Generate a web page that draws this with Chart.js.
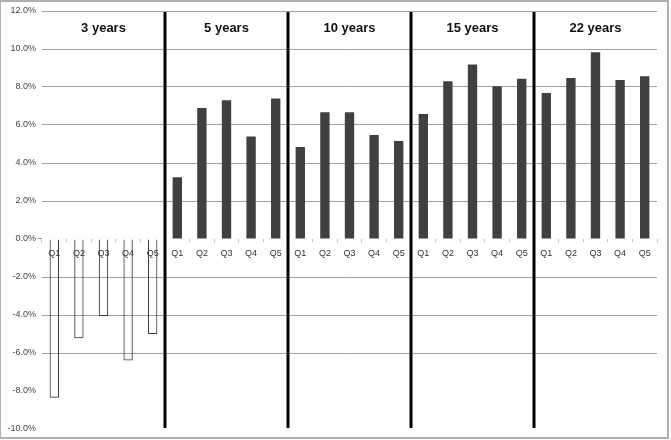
<!DOCTYPE html>
<html lang="en">

<head>
  <meta charset="UTF-8">
  <title>Returns by quintile and horizon</title>
  <script src="https://cdn.jsdelivr.net/npm/chart.js"></script>
  <style>
    body { margin: 0; background: #fff; }
    #wrap { position: relative; width: 671px; height: 440px; }
  </style>
</head>

<body>
  <div id="wrap"><canvas id="retChart" width="671" height="440"></canvas></div>

  <script>
    // horizons and quintiles
    const groups = ['3 years', '5 years', '10 years', '15 years', '22 years'];
    const quintiles = ['Q1', 'Q2', 'Q3', 'Q4', 'Q5'];

    // average return (%) per quintile, one array per horizon
    const y3 = [-8.35, -5.23, -4.05, -6.4, -5.0];
    const y5 = [3.25, 6.89, 7.3, 5.4, 7.4];
    const y10 = [4.84, 6.67, 6.67, 5.47, 5.16];
    const y15 = [6.58, 8.3, 9.19, 8.04, 8.44];
    const y22 = [7.68, 8.47, 9.83, 8.37, 8.56];

    const yTicks = [-10, -8, -6, -4, -2, 0, 2, 4, 6, 8, 10, 12];

    const labels = groups.flatMap(() => quintiles);
    const values = [].concat(y3, y5, y10, y15, y22);

    Chart.defaults.font.family = 'Arial, "Liberation Sans", sans-serif';

    // thick separators between horizons + horizon titles + outer frame
    const groupPlugin = {
      id: 'groups',
      afterDatasetsDraw(chart) {
        const ctx = chart.ctx;
        const x = chart.scales.x;
        const y = chart.scales.y;
        const n = quintiles.length;
        ctx.save();
        ctx.strokeStyle = '#000';
        ctx.lineWidth = 3;
        for (let g = 1; g < groups.length; g++) {
          const i = g * n;
          const px = (x.getPixelForValue(i - 1) + x.getPixelForValue(i)) / 2;
          ctx.beginPath();
          ctx.moveTo(px, y.top + 1);
          ctx.lineTo(px, y.bottom - 1);
          ctx.stroke();
        }
        ctx.fillStyle = '#111';
        ctx.font = 'bold 13px Arial, "Liberation Sans", sans-serif';
        ctx.textAlign = 'center';
        ctx.textBaseline = 'middle';
        groups.forEach((g, k) => {
          const cx = (x.getPixelForValue(k * n) + x.getPixelForValue(k * n + n - 1)) / 2;
          ctx.fillText(g, cx, 28);
        });
        ctx.strokeStyle = '#b0b0b0';
        ctx.lineWidth = 2;
        ctx.strokeRect(0, 1, 668, 437);
        ctx.restore();
      }
    };

    const ctx = document.getElementById('retChart').getContext('2d');
    new Chart(ctx, {
      type: 'bar',
      data: {
        labels: labels,
        datasets: [{
          data: values,
          backgroundColor: c => c.raw < 0 ? 'rgba(255,255,255,0)' : '#404040',
          borderColor: '#3a3a3a',
          borderWidth: c => c.raw < 0 ? 1 : 0,
          barPercentage: 0.38,
          categoryPercentage: 1
        }]
      },
      options: {
        responsive: false,
        animation: false,
        layout: { padding: { top: 11, right: 14, bottom: 11, left: 0 } },
        plugins: {
          legend: { display: false },
          tooltip: { enabled: false }
        },
        scales: {
          x: {
            position: { y: 0 },
            grid: {
              offset: true,
              drawOnChartArea: false,
              drawTicks: true,
              tickLength: 3,
              tickColor: '#c0c0c0'
            },
            border: { display: false },
            ticks: {
              color: '#333',
              font: { size: 9 },
              padding: 6,
              maxRotation: 0,
              autoSkip: false
            }
          },
          y: {
            min: -10,
            max: 12,
            afterBuildTicks: s => { s.ticks = yTicks.map(v => ({ value: v })); },
            afterFit: s => { s.width = 42; },
            grid: {
              color: c => (c.tick.value === 0 || c.tick.value === -8 || c.tick.value === -10) ? 'rgba(0,0,0,0)' : '#a0a0a0',
              drawTicks: true,
              tickLength: 4,
              tickColor: c => c.tick.value === 0 ? '#999' : 'rgba(0,0,0,0)'
            },
            border: { display: false },
            ticks: {
              color: '#444',
              font: { size: 9 },
              padding: 2,
              callback: v => v.toFixed(1) + '%'
            }
          }
        }
      },
      plugins: [groupPlugin]
    });
  </script>
</body>

</html>
